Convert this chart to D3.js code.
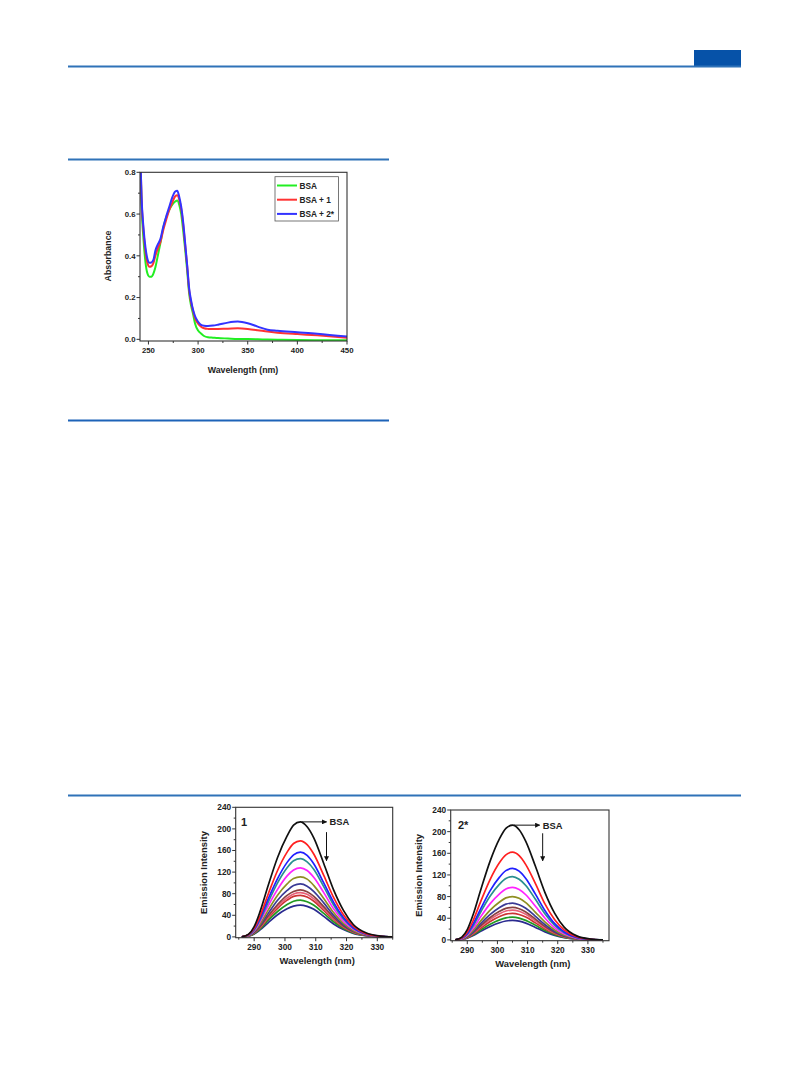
<!DOCTYPE html>
<html><head><meta charset="utf-8">
<script src="https://cdn.jsdelivr.net/npm/d3@7"></script>
<style>body{margin:0;background:#fff}svg{display:block}text{font-family:"Liberation Sans",Arial,sans-serif;font-weight:bold;fill:#222}</style>
</head><body>
<svg id="c" width="809" height="1067"></svg>
<script>
// ---------- UV-Vis absorption data ----------
const uvWavelength = [241.5,243,245,247,249,251,253,255,257,259,262,265,268,271,274,277,279,281,283,285,287,289,291,293,295,297,300,303,306,310,315,320,330,340,350,360,370,380,400,420,450];
const uvBSA  = [0.95,0.65,0.48,0.37,0.315,0.30,0.30,0.315,0.345,0.39,0.46,0.535,0.585,0.62,0.645,0.66,0.665,0.645,0.60,0.52,0.43,0.33,0.22,0.16,0.12,0.075,0.042,0.028,0.016,0.01,0.008,0.006,0.004,0.002,0.001,0,-0.001,-0.002,-0.003,-0.004,-0.005];
const uvBSA1 = [0.95,0.68,0.52,0.42,0.365,0.348,0.35,0.365,0.40,0.43,0.465,0.525,0.575,0.62,0.655,0.685,0.69,0.67,0.625,0.55,0.45,0.35,0.235,0.175,0.135,0.10,0.075,0.06,0.053,0.05,0.049,0.05,0.051,0.053,0.05,0.044,0.037,0.032,0.025,0.019,0.008];
const uvBSA2 = [0.95,0.69,0.535,0.44,0.385,0.367,0.368,0.38,0.425,0.45,0.48,0.54,0.59,0.635,0.68,0.708,0.712,0.683,0.635,0.56,0.46,0.355,0.244,0.185,0.14,0.11,0.084,0.069,0.065,0.064,0.066,0.07,0.08,0.085,0.077,0.061,0.046,0.041,0.034,0.027,0.013];
const uvSeriesNames = ["BSA","BSA + 1","BSA + 2*"];
const uvXTicks = [250,300,350,400,450];
const uvYTicks = [0,0.2,0.4,0.6,0.8];

// ---------- Fluorescence emission data ----------
const emWavelength = [286,288.2,290,291.8,294.6,297.6,300.7,302.8,305,307.2,309.4,312.6,315.8,319,322.2,326.3,331,335];
const em1 = [
 [0,5,19,45,96,147,187,207,213,204,183,136,87,49,23,7.5,1.5,0],
 [0,4.5,16,37,80,123,157,173,178,171,153,114,73,41,20,6,1.2,0],
 [0,4,14,33,71,108,138,152,157,151,135,100,64,36,17,5.5,1.1,0],
 [0,3.6,13,30,65,100,128,141,145,139,125,93,59,33,16,5,1,0],
 [0,3.2,11.5,27,58,88,113,124,128,123,110,82,52,29,14,4.5,0.9,0],
 [0,2.8,10,23,50,77,98,108,111,107,95,71,45,25,12,3.9,0.8,0],
 [0,2.5,9,21,44,68,86,95,98,94,84,63,40,22.5,11,3.4,0.7,0],
 [0,2.2,8,18,39,60,77,84,87,83.5,75,56,36,20,9.6,3,0.6,0],
 [0,2,7.4,17,37,57,72,79.5,82,79,70.5,52.5,34,19,9,2.9,0.6,0],
 [0,1.9,7,16,35,53,68,75,77,74,66,49,32,18,8.5,2.7,0.5,0],
 [0,1.7,6,14,31,47,60,66,68,65,58.5,43.5,28,15.6,7.5,2.4,0.5,0],
 [0,1.5,5.3,12.4,26.6,41,52,57,59,56.6,51,38,24,13.6,6.5,2.1,0.4,0]
];
const em2 = [
 [0,5.3,19,44.5,95,146,187,206,212,203.5,182,136,87,49,23,7.4,1.5,0],
 [0,4,14.6,34,73,112,143,157,162,155.5,139,104,66,37,18,5.7,1.1,0],
 [0,3.3,12,28,59,91,116,128,132,127,113.5,84.5,54,30,14.5,4.6,0.9,0],
 [0,2.9,10.5,24.6,53,81,103,113.5,117,112,100.6,75,48,27,13,4.1,0.8,0],
 [0,2.4,8.7,20.4,44,67,85,94,97,93,83.4,62,40,22.3,10.7,3.4,0.7,0],
 [0,2,7.2,16.8,36,55,70,77.6,80,76.8,68.8,51,33,18.4,8.8,2.8,0.6,0],
 [0,1.7,6,14,31,47,60,66,68,65,58.5,43.5,28,15.6,7.5,2.4,0.5,0],
 [0,1.5,5.4,12.6,27,41.4,52.8,58.2,60,57.6,51.6,38.4,24.6,13.8,6.6,2.1,0.4,0],
 [0,1.4,5,11.6,24.8,38,48.4,53.4,55,52.8,47.3,35.2,22.6,12.7,6.1,1.9,0.4,0],
 [0,1.2,4.4,10.3,22,33.8,43.1,47.5,49,47,42.1,31.4,20.1,11.3,5.4,1.7,0.3,0],
 [0,1.05,3.8,8.8,18.9,29,37,40.7,42,40.3,36.1,26.9,17.2,9.7,4.6,1.5,0.3,0],
 [0,0.9,3.2,7.6,16.2,24.8,31.7,34.9,36,34.6,31,23,14.8,8.3,4,1.3,0.25,0]
];
const emXTicks = [290,300,310,320,330];
const emYTicks = [0,40,80,120,160,200,240];

// ---------- styles ----------
const uvColors = ["#22ee22","#ff3333","#3333ff"];
const emColors = ["#111111","#ff2020","#2020ff","#2a9090","#ff22ff","#8f8f22","#3a3a96","#884040","#e86078","#cc3333","#229922","#2a2a90"];
const rule = "#2f72b8";

const svg = d3.select("#c");

// page rules
svg.append("rect").attr("x",694).attr("y",50).attr("width",47).attr("height",16).attr("fill","#0652a8");
svg.append("line").attr("x1",68).attr("x2",741).attr("y1",66.5).attr("y2",66.5).attr("stroke",rule).attr("stroke-width",2);
svg.append("line").attr("x1",68).attr("x2",389).attr("y1",159.5).attr("y2",159.5).attr("stroke",rule).attr("stroke-width",2);
svg.append("line").attr("x1",68).attr("x2",389).attr("y1",420.5).attr("y2",420.5).attr("stroke","#1d63b8").attr("stroke-width",2);
svg.append("line").attr("x1",68).attr("x2",741).attr("y1",795.5).attr("y2",795.5).attr("stroke",rule).attr("stroke-width",2);

function frame(g, x, y, xTicks, xMinor, yTicks, yMinor, yFmt, fs){
  const [x0,x1] = x.range(), [y0,y1] = y.range();
  const ax = g.append("g");
  xMinor.forEach(v=>ax.append("line").attr("x1",x(v)).attr("x2",x(v)).attr("y1",y0).attr("y2",y0+2).attr("stroke","#333").attr("stroke-width",1));
  xTicks.forEach(v=>{
    ax.append("line").attr("x1",x(v)).attr("x2",x(v)).attr("y1",y0).attr("y2",y0+3.5).attr("stroke","#333").attr("stroke-width",1);
    ax.append("text").attr("x",x(v)).attr("y",y0+4+fs).attr("text-anchor","middle").attr("font-size",fs).text(v);
  });
  yMinor.forEach(v=>ax.append("line").attr("x1",x0).attr("x2",x0-2).attr("y1",y(v)).attr("y2",y(v)).attr("stroke","#333").attr("stroke-width",1));
  yTicks.forEach(v=>{
    ax.append("line").attr("x1",x0).attr("x2",x0-3.5).attr("y1",y(v)).attr("y2",y(v)).attr("stroke","#333").attr("stroke-width",1);
    ax.append("text").attr("x",x0-4.5).attr("y",y(v)+fs*0.36).attr("text-anchor","end").attr("font-size",fs).text(yFmt(v));
  });
  g.append("rect").attr("x",x0).attr("y",y1).attr("width",x1-x0).attr("height",y0-y1).attr("fill","none").attr("stroke","#333").attr("stroke-width",1.1);
}

// ---------- UV chart ----------
{
  const x = d3.scaleLinear().domain([241.5,450]).range([140,347]);
  const y = d3.scaleLinear().domain([-0.008,0.8]).range([341,172.3]);
  const g = svg.append("g");
  g.append("clipPath").attr("id","cuv").append("rect").attr("x",140).attr("y",172.3).attr("width",207).attr("height",168.7);
  const line = d3.line().x(d=>x(d[0])).y(d=>y(d[1])).curve(d3.curveMonotoneX);
  [uvBSA,uvBSA1,uvBSA2].forEach((s,i)=>{
    g.append("path").attr("clip-path","url(#cuv)").attr("d",line(uvWavelength.map((w,j)=>[w,s[j]])))
     .attr("fill","none").attr("stroke",uvColors[i]).attr("stroke-width",2);
  });
  frame(g,x,y,uvXTicks,[275,325,375,425],uvYTicks,[0.1,0.3,0.5,0.7],d=>d.toFixed(1),7.8);
  g.append("text").attr("x",243).attr("y",373).attr("text-anchor","middle").attr("font-size",8.8).text("Wavelength (nm)");
  g.append("text").attr("transform","translate(110.5,256) rotate(-90)").attr("text-anchor","middle").attr("font-size",8.8).text("Absorbance");
  g.append("rect").attr("x",275).attr("y",176.7).attr("width",63.5).attr("height",44.3).attr("fill","#fff").attr("stroke","#555").attr("stroke-width",0.8);
  uvSeriesNames.forEach((n,i)=>{
    const yy = 185.5 + i*14.2;
    g.append("line").attr("x1",277).attr("x2",297).attr("y1",yy).attr("y2",yy).attr("stroke",uvColors[i]).attr("stroke-width",2);
    g.append("text").attr("x",299.5).attr("y",yy+3).attr("font-size",8.3).text(n);
  });
}

// ---------- Emission charts ----------
function emChart(data, xr, xd, yr, tag, tagPos, arrow){
  const x = d3.scaleLinear().domain(xd).range(xr);
  const y = d3.scaleLinear().domain([-1.5,240]).range(yr);
  const g = svg.append("g");
  const id = "c"+tag.length;
  g.append("clipPath").attr("id",id).append("rect").attr("x",xr[0]).attr("y",yr[1]).attr("width",xr[1]-xr[0]).attr("height",yr[0]-yr[1]);
  const line = d3.line().x(d=>x(d[0])).y(d=>y(d[1])).curve(d3.curveMonotoneX);
  data.slice().reverse().forEach((s,k)=>{
    const i = data.length-1-k;
    g.append("path").attr("clip-path",`url(#${id})`).attr("d",line(emWavelength.map((w,j)=>[w,s[j]])))
     .attr("fill","none").attr("stroke",emColors[i]).attr("stroke-width",1.7);
  });
  frame(g,x,y,emXTicks,[285,295,305,315,325,335].filter(v=>v>=xd[0]&&v<=xd[1]),emYTicks,[20,60,100,140,180,220],d=>d,8.3);
  const cx = (xr[0]+xr[1])/2;
  g.append("text").attr("x",cx+3).attr("y",yr[0]+26).attr("text-anchor","middle").attr("font-size",9.4).text("Wavelength (nm)");
  g.append("text").attr("transform",`translate(${xr[0]-29},${(yr[0]+yr[1])/2}) rotate(-90)`).attr("text-anchor","middle").attr("font-size",9.4).text("Emission Intensity");
  g.append("text").attr("x",tagPos[0]).attr("y",tagPos[1]).attr("font-size",11).text(tag);
  const defs = g.append("defs");
  defs.append("marker").attr("id","m"+id).attr("viewBox","0 0 10 10").attr("refX",9).attr("refY",5)
    .attr("markerWidth",5).attr("markerHeight",5).attr("orient","auto")
    .append("path").attr("d","M0,0L10,5L0,10z").attr("fill","#111");
  g.append("line").attr("x1",x(arrow.h[0])).attr("x2",x(arrow.h[1])).attr("y1",y(arrow.h[2])).attr("y2",y(arrow.h[2]))
   .attr("stroke","#111").attr("stroke-width",1).attr("marker-end",`url(#m${id})`);
  g.append("text").attr("x",x(arrow.h[1])+3).attr("y",y(arrow.h[2])+3.5).attr("font-size",9.4).text("BSA");
  g.append("line").attr("x1",x(arrow.v[0])).attr("x2",x(arrow.v[0])).attr("y1",y(arrow.v[1])).attr("y2",y(arrow.v[2]))
   .attr("stroke","#111").attr("stroke-width",1).attr("marker-end",`url(#m${id})`);
}
emChart(em1,[235.7,392.7],[284,335],[937.7,807.3],"1",[241,826],{h:[305.5,313.5,213],v:[313.5,194,141]});
emChart(em2,[450.7,609],[284.5,337],[940.7,810],"2*",[458,829],{h:[305.5,314,212],v:[315,197,146]});
</script>
</body></html>
